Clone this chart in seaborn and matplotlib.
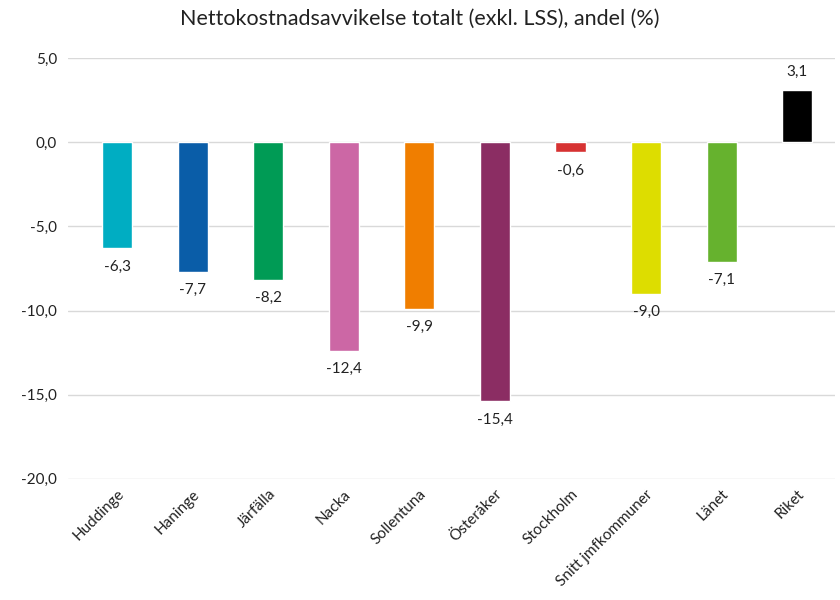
import pandas as pd
import matplotlib.pyplot as plt
import seaborn as sns
from matplotlib.ticker import FuncFormatter

kommuner = ["Huddinge", "Haninge", "Järfälla", "Nacka", "Sollentuna",
            "Österåker", "Stockholm", "Snitt jmfkommuner", "Länet", "Riket"]
avvikelse = [-6.3, -7.7, -8.2, -12.4, -9.9, -15.4, -0.6, -9.0, -7.1, 3.1]
farger = ["#00ADC2", "#0A5DA8", "#009B55", "#CC67A5", "#F07E00",
          "#8B2D63", "#D63232", "#DDDD00", "#66B22E", "#000000"]


def plot_avvikelse():
    df = pd.DataFrame({"kommun": kommuner, "varde": avvikelse})

    sns.set_style("white")
    plt.rcParams["font.family"] = ["Lato", "DejaVu Sans"]

    fig = plt.figure(figsize=(8.4, 6), dpi=100)
    ax = fig.add_axes([0.081, 0.202, 0.913, 0.701])

    sns.barplot(
        data=df, x="kommun", y="varde", hue="kommun",
        palette=dict(zip(kommuner, farger)), width=0.4, saturation=1,
        legend=False, ax=ax, zorder=3
    )

    # data labels with decimal comma
    for i, v in enumerate(avvikelse):
        txt = f"{v:.1f}".replace(".", ",")
        if v < 0:
            ax.annotate(txt, (i, v), xytext=(0, -8), textcoords="offset points",
                        ha="center", va="top", fontsize=11, color="#222222")
        else:
            ax.annotate(txt, (i, v), xytext=(0, 8), textcoords="offset points",
                        ha="center", va="bottom", fontsize=11, color="#222222")

    ax.set_ylim(-20, 5)
    ax.set_yticks([-20, -15, -10, -5, 0, 5])
    ax.yaxis.set_major_formatter(FuncFormatter(lambda y, _: f"{y:.1f}".replace(".", ",")))
    ax.set_xlim(-0.65, 9.5)
    ax.grid(axis="y", color="#D9D9D9", linewidth=1, zorder=0)
    ax.set_axisbelow(True)
    for s in ax.spines.values():
        s.set_visible(False)
    ax.tick_params(axis="both", length=0, labelsize=11, colors="#222222")
    ax.tick_params(axis="y", pad=8)
    ax.tick_params(axis="x", pad=6)
    plt.setp(ax.get_xticklabels(), rotation=45, ha="right", rotation_mode="anchor")
    ax.set_xlabel("")
    ax.set_ylabel("")

    fig.suptitle("Nettokostnadsavvikelse totalt (exkl. LSS), andel (%)",
                 fontsize=15.5, y=0.985, color="#222222")

    fig.savefig("out.png", dpi=100)


if __name__ == "__main__":
    plot_avvikelse()
